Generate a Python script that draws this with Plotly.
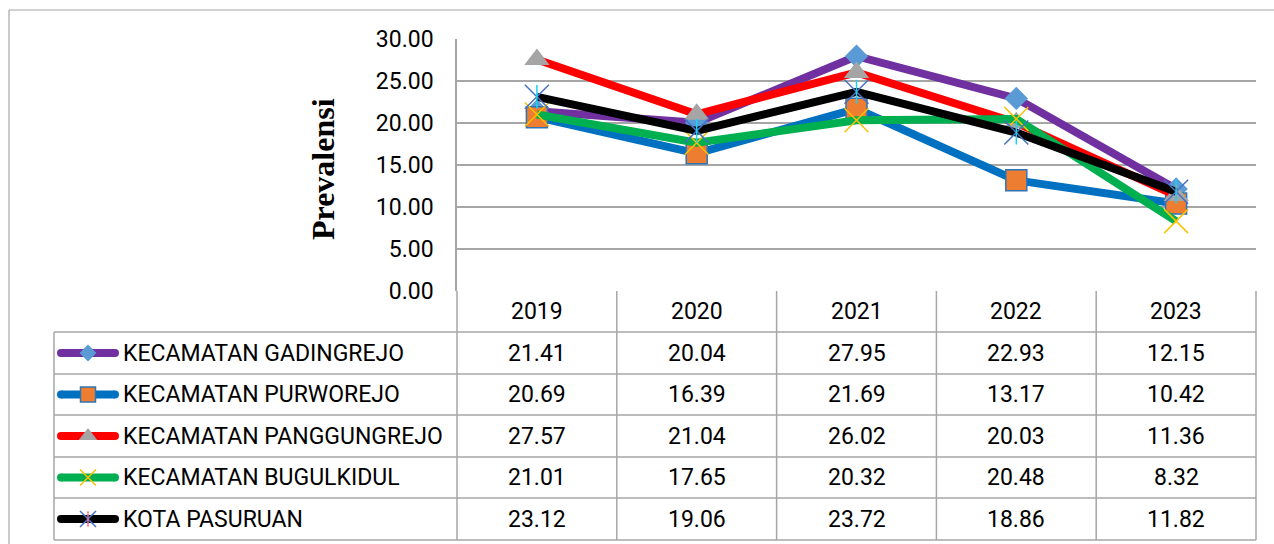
import plotly.graph_objects as go

# ---- data ----
years = ["2019", "2020", "2021", "2022", "2023"]
series_names = [
    "KECAMATAN GADINGREJO",
    "KECAMATAN PURWOREJO",
    "KECAMATAN PANGGUNGREJO",
    "KECAMATAN BUGULKIDUL",
    "KOTA PASURUAN",
]
gadingrejo = [21.41, 20.04, 27.95, 22.93, 12.15]
purworejo = [20.69, 16.39, 21.69, 13.17, 10.42]
panggungrejo = [27.57, 21.04, 26.02, 20.03, 11.36]
bugulkidul = [21.01, 17.65, 20.32, 20.48, 8.32]
kota_pasuruan = [23.12, 19.06, 23.72, 18.86, 11.82]
y_ticks = [0, 5, 10, 15, 20, 25, 30]

all_values = [gadingrejo, purworejo, panggungrejo, bugulkidul, kota_pasuruan]

# ---- styles ----
W, H = 1274, 544
FONT = "Roboto"
GRID = "#a6a6a6"
LINE_W = 8
styles = [
    dict(line="#7030A0", symbol="diamond", mcolor="#5B9BD5", size=18, lsize=13, mline=dict(width=0)),
    dict(line="#0070C0", symbol="square", mcolor="#ED7D31", size=21, lsize=15, mline=dict(width=1.5, color="#2E75B6")),
    dict(line="#FF0000", symbol="triangle-up", mcolor="#A5A5A5", size=22, lsize=16, mline=dict(width=0)),
    dict(line="#00B050", symbol="x-thin-open", mcolor="#FFC000", size=24, lsize=16, mline=dict(width=1.5, color="#FFC000")),
    dict(line="#000000", symbol="x-thin-open", mcolor="#4472C4", size=24, lsize=16, mline=dict(width=1.5, color="#4472C4")),
]

# layout geometry (pixels)
plot_l, plot_r, plot_t, plot_b = 457, 1256, 39, 291
row_edges = [291, 332, 374, 415, 457, 498, 540]
legend_l = 54


def px(x):
    return x / W


def py(y):
    return 1 - y / H


fig = go.Figure()

# ---- lines ----
for name, vals, st in zip(series_names, all_values, styles):
    fig.add_trace(go.Scatter(
        x=years, y=vals, name=name, mode="lines+markers",
        line=dict(color=st["line"], width=LINE_W),
        marker=dict(symbol=st["symbol"], color=st["mcolor"], size=st["size"], line=st["mline"]),
        cliponaxis=False, showlegend=False, xaxis="x", yaxis="y",
    ))
    if name == "KOTA PASURUAN":
        # vertical stroke completes the star marker
        fig.add_trace(go.Scatter(
            x=years, y=vals, mode="markers",
            marker=dict(symbol="line-ns-open", size=17, line=dict(width=1.5, color=st["mcolor"])),
            cliponaxis=False, showlegend=False, hoverinfo="skip", xaxis="x", yaxis="y",
        ))

# ---- legend keys in the data table (pixel axes) ----
key_x0, key_x1 = 61, 115
key_xc = (key_x0 + key_x1) / 2
for i, (name, st) in enumerate(zip(series_names, styles)):
    yc = (row_edges[i + 1] + row_edges[i + 2]) / 2
    fig.add_trace(go.Scatter(
        x=[key_x0, key_x1], y=[yc, yc], mode="lines+markers",
        line=dict(color=st["line"], width=LINE_W),
        marker=dict(symbol="circle", size=LINE_W, color=st["line"]),
        showlegend=False, hoverinfo="skip", xaxis="x2", yaxis="y2",
    ))
    fig.add_trace(go.Scatter(
        x=[key_xc], y=[yc], mode="markers",
        marker=dict(symbol=st["symbol"], color=st["mcolor"], size=st["lsize"], line=st["mline"]),
        showlegend=False, hoverinfo="skip", xaxis="x2", yaxis="y2",
    ))
    if name == "KOTA PASURUAN":
        fig.add_trace(go.Scatter(
            x=[key_xc], y=[yc], mode="markers",
            marker=dict(symbol="line-ns-open", size=11, line=dict(width=1.5, color=st["mcolor"])),
            showlegend=False, hoverinfo="skip", xaxis="x2", yaxis="y2",
        ))

# ---- table grid ----
shapes = []


def hline(x0, x1, y, color=GRID, width=1.5):
    shapes.append(dict(type="line", xref="paper", yref="paper",
                       x0=px(x0), x1=px(x1), y0=py(y), y1=py(y),
                       line=dict(color=color, width=width)))


def vline(x, y0, y1, color=GRID, width=1.5):
    shapes.append(dict(type="line", xref="paper", yref="paper",
                       x0=px(x), x1=px(x), y0=py(y0), y1=py(y1),
                       line=dict(color=color, width=width)))


col_w = (plot_r - plot_l) / len(years)
for y in row_edges[1:]:
    hline(legend_l, plot_r, y)
vline(legend_l, row_edges[1], row_edges[-1])
for j in range(len(years) + 1):
    vline(plot_l + j * col_w, row_edges[0], row_edges[-1])

# outer chart border
hline(9, W + 5, 10, color="#a6a6a6", width=1.2)
vline(9, 10, H + 5, color="#a6a6a6", width=1.2)

# ---- table text ----
annotations = []
for j, yr in enumerate(years):
    annotations.append(dict(
        x=px(plot_l + (j + 0.5) * col_w), y=py((row_edges[0] + row_edges[1]) / 2),
        xref="paper", yref="paper", text=yr, showarrow=False,
        font=dict(family=FONT, size=23, color="#000000"), xanchor="center", yanchor="middle"))
for i, (name, vals) in enumerate(zip(series_names, all_values)):
    yc = (row_edges[i + 1] + row_edges[i + 2]) / 2
    annotations.append(dict(
        x=px(121), y=py(yc), xref="paper", yref="paper", text=name, showarrow=False,
        font=dict(family=FONT, size=23, color="#000000"), xanchor="left", yanchor="middle"))
    for j, v in enumerate(vals):
        annotations.append(dict(
            x=px(plot_l + (j + 0.5) * col_w), y=py(yc), xref="paper", yref="paper",
            text=f"{v:.2f}", showarrow=False,
            font=dict(family=FONT, size=23, color="#000000"), xanchor="center", yanchor="middle"))

# y-axis title
annotations.append(dict(
    x=px(323), y=py(169), xref="paper", yref="paper", text="<b>Prevalensi</b>",
    showarrow=False, textangle=-90,
    font=dict(family="Liberation Serif", size=32, color="#000000"),
    xanchor="center", yanchor="middle"))

fig.update_layout(
    width=W, height=H,
    margin=dict(l=0, r=0, t=0, b=0, pad=0, autoexpand=False),
    paper_bgcolor="white", plot_bgcolor="rgba(0,0,0,0)",
    shapes=shapes, annotations=annotations,
    showlegend=False,
    xaxis=dict(
        domain=[px(plot_l), px(plot_r)], range=[-0.5, 4.5], type="category",
        showticklabels=False, showgrid=False, zeroline=False, showline=False, ticks="",
        anchor="y", automargin=False,
    ),
    yaxis=dict(
        domain=[py(plot_b), py(plot_t)], range=[0, 30], tickvals=y_ticks,
        tickformat=".2f", showgrid=True, gridcolor=GRID, gridwidth=1.5,
        zeroline=False, showline=True, linecolor=GRID, linewidth=1.5, ticks="",
        ticklabelstandoff=17, tickfont=dict(family=FONT, size=23, color="#000000"),
        anchor="x", automargin=False,
    ),
    xaxis2=dict(domain=[0, 1], range=[0, W], visible=False, showticklabels=False,
                anchor="y2", fixedrange=True, automargin=False),
    yaxis2=dict(domain=[0, 1], range=[H, 0], visible=False, showticklabels=False,
                anchor="x2", fixedrange=True, automargin=False),
)

fig.write_html("out.html")
